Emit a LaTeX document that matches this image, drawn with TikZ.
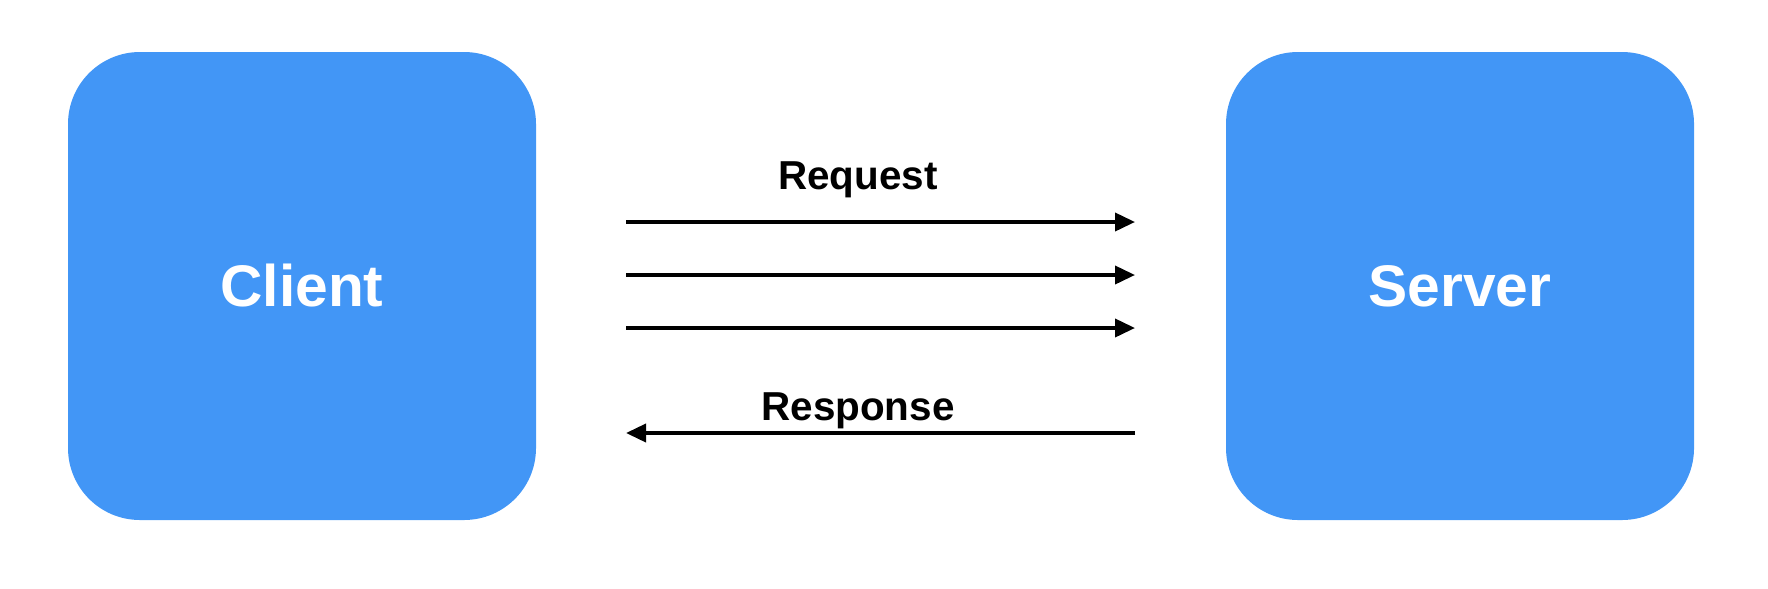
\documentclass[tikz,border=0pt]{standalone}
\usepackage{xcolor}
\usepackage{fontspec}
\setmainfont{Liberation Sans}
\usetikzlibrary{
		arrows.meta,
		positioning
	}
\definecolor{boxblue}{RGB}{66,150,246}
\tikzset{
		>={Triangle[length=2mm,width=1.8mm]},
		endpoint/.style={fill=boxblue, rounded corners=0.72cm, minimum size=4.68cm,
			text=white, font=\fontsize{16.7}{20}\selectfont\bfseries},
		msglabel/.style={anchor=base, font=\fontsize{11.5}{14}\selectfont\bfseries}
	}

\begin{document}
\begin{tikzpicture}[line width=1.05pt]
          \useasboundingbox (0,0) rectangle (17.68,5.88);

          \node[endpoint] (client) at (3.02,3.02) {Client};
          \node[endpoint] (server) at (14.60,3.02) {Server};

          \coordinate (reqA1) at (6.26,3.66);
          \coordinate (reqB1) at (11.35,3.66);
          \coordinate (reqA2) at (6.26,3.13);
          \coordinate (reqB2) at (11.35,3.13);
          \coordinate (reqA3) at (6.26,2.60);
          \coordinate (reqB3) at (11.35,2.60);
          \coordinate (resA) at (11.35,1.55);
          \coordinate (resB) at (6.26,1.55);

          \draw[->] (reqA1) -- (reqB1);
          \draw[->] (reqA2) -- (reqB2);
          \draw[->] (reqA3) -- (reqB3);
          \draw[->] (resA) -- (resB);

          \node[msglabel] (request) at (8.58,3.99) {Request};
          \node[msglabel] (response) at (8.58,1.68) {Response};

          \end{tikzpicture}
\end{document}
